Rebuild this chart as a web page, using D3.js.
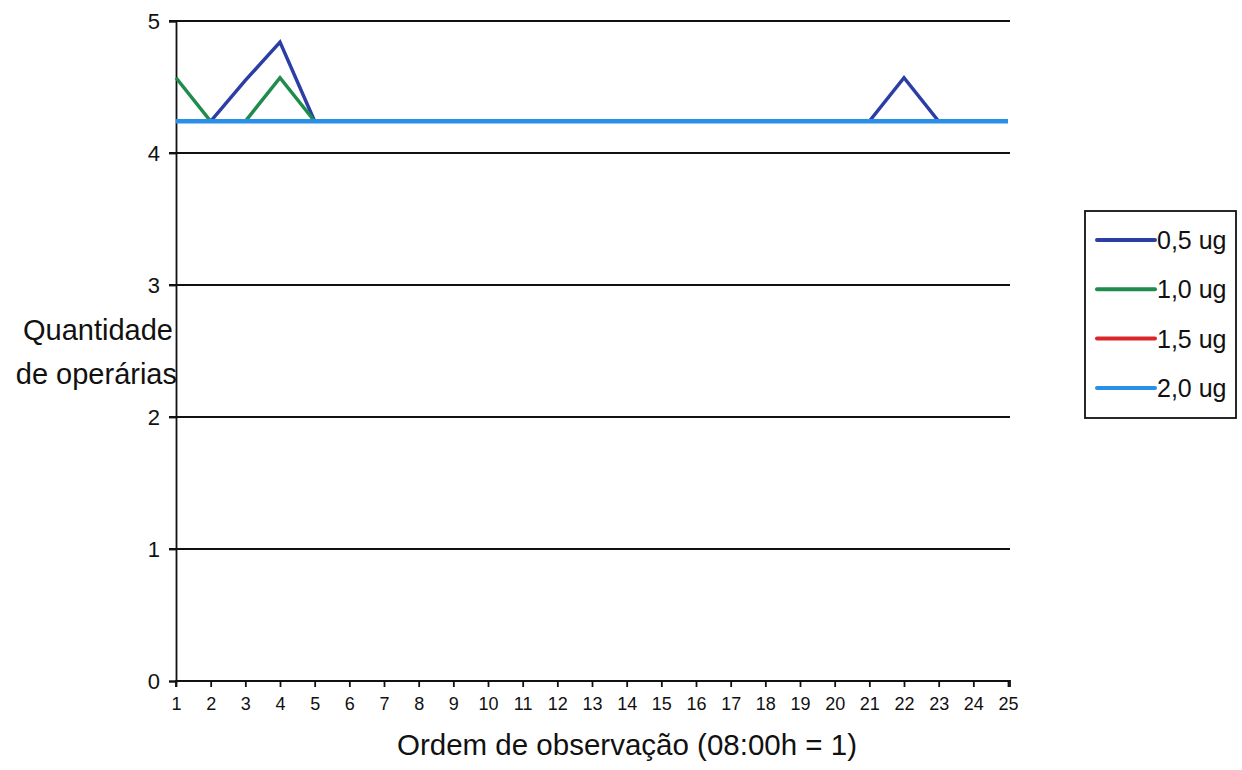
<!DOCTYPE html>
<html>
<head>
<meta charset="utf-8">
<script src="https://cdn.jsdelivr.net/npm/d3@7"></script>
<style>
  html, body { margin: 0; padding: 0; background: #fff; }
  svg { display: block; font-family: "Liberation Sans", Arial, sans-serif; }
</style>
</head>
<body>
<svg id="chart" width="1242" height="770"></svg>
<script>
const categories = [1,2,3,4,5,6,7,8,9,10,11,12,13,14,15,16,17,18,19,20,21,22,23,24,25];
const yTicks = [0,1,2,3,4,5];
const seriesNames = ["0,5 ug", "1,0 ug", "1,5 ug", "2,0 ug"];
const s05 = [4.24,4.24,4.55,4.84,4.24,4.24,4.24,4.24,4.24,4.24,4.24,4.24,4.24,4.24,4.24,4.24,4.24,4.24,4.24,4.24,4.24,4.57,4.24,4.24,4.24];
const s10 = [4.57,4.24,4.24,4.57,4.24,4.24,4.24,4.24,4.24,4.24,4.24,4.24,4.24,4.24,4.24,4.24,4.24,4.24,4.24,4.24,4.24,4.24,4.24,4.24,4.24];
const s15 = [4.24,4.24,4.24,4.24,4.24,4.24,4.24,4.24,4.24,4.24,4.24,4.24,4.24,4.24,4.24,4.24,4.24,4.24,4.24,4.24,4.24,4.24,4.24,4.24,4.24];
const s20 = [4.24,4.24,4.24,4.24,4.24,4.24,4.24,4.24,4.24,4.24,4.24,4.24,4.24,4.24,4.24,4.24,4.24,4.24,4.24,4.24,4.24,4.24,4.24,4.24,4.24];
const colors = ["#2b3ea6", "#1e8c4a", "#d9262b", "#2a8fe6"];
const widths = [3.5, 3.5, 3.5, 4.5];

const seriesValues = [s05, s10, s15, s20];

(function () {
const svg = d3.select("#chart");
const pL = 176, pR = 1008, pT = 21, pB = 681;

const x = d3.scalePoint().domain(categories).range([pL, pR]);
const y = d3.scaleLinear().domain([0, 5]).range([pB, pT]);

// gridlines
svg.append("g")
  .selectAll("line")
  .data(yTicks.filter(d => d > 0))
  .join("line")
  .attr("x1", pL - 7).attr("x2", pR + 2)
  .attr("y1", d => y(d)).attr("y2", d => y(d))
  .attr("stroke", "#111").attr("stroke-width", 1.8);

// y axis
const yAxis = svg.append("g")
  .attr("transform", `translate(${pL},0)`)
  .call(d3.axisLeft(y).tickValues(yTicks).tickSize(7).tickPadding(9).tickFormat(d3.format("d")));
yAxis.select(".domain").attr("stroke", "#111").attr("stroke-width", 1.8);
yAxis.selectAll(".tick line").attr("stroke", "#111").attr("stroke-width", 1.8);
yAxis.selectAll(".tick text").attr("font-size", 22).attr("fill", "#111")
  .attr("font-family", "'Liberation Sans', Arial, sans-serif");

// x axis
const xAxis = svg.append("g")
  .attr("transform", `translate(0,${pB})`)
  .call(d3.axisBottom(x).tickSize(6).tickPadding(10));
xAxis.select(".domain").attr("stroke", "#111").attr("stroke-width", 1.8)
  .attr("d", `M${pL},6V0H${pR + 2}V6`);
xAxis.selectAll(".tick line").attr("stroke", "#111").attr("stroke-width", 1.8);
xAxis.selectAll(".tick text").attr("font-size", 18).attr("fill", "#111")
  .attr("font-family", "'Liberation Sans', Arial, sans-serif");

// series lines
const line = d3.line().x((d, i) => x(categories[i])).y(d => y(d));
svg.append("g")
  .selectAll("path")
  .data(seriesValues)
  .join("path")
  .attr("d", d => line(d))
  .attr("fill", "none")
  .attr("stroke", (d, i) => colors[i])
  .attr("stroke-width", (d, i) => widths[i])
  .attr("stroke-linejoin", "miter");

// axis titles
svg.append("text")
  .attr("x", 397).attr("y", 755)
  .attr("text-anchor", "start")
  .attr("font-size", 29.5).attr("fill", "#111")
  .text("Ordem de observação (08:00h = 1)");

const yt = svg.append("text")
  .attr("text-anchor", "end")
  .attr("font-size", 29).attr("fill", "#111");
yt.append("tspan").attr("x", 173).attr("y", 340).text("Quantidade");
yt.append("tspan").attr("x", 177).attr("y", 384).text("de operárias");

// legend
const lg = svg.append("g");
lg.append("rect")
  .attr("x", 1085).attr("y", 211).attr("width", 151).attr("height", 207)
  .attr("fill", "#fff").attr("stroke", "#111").attr("stroke-width", 1.8);
const items = lg.selectAll("g.item")
  .data(seriesNames)
  .join("g")
  .attr("class", "item")
  .attr("transform", (d, i) => `translate(0,${240 + i * 49.3})`);
items.append("line")
  .attr("x1", 1097).attr("x2", 1155).attr("y1", 0).attr("y2", 0)
  .attr("stroke", (d, i) => colors[i]).attr("stroke-width", 4)
  .attr("stroke-linecap", "round");
items.append("text")
  .attr("x", 1157).attr("y", 9)
  .attr("font-size", 25).attr("fill", "#111")
  .text(d => d);
})();
</script>
</body>
</html>
